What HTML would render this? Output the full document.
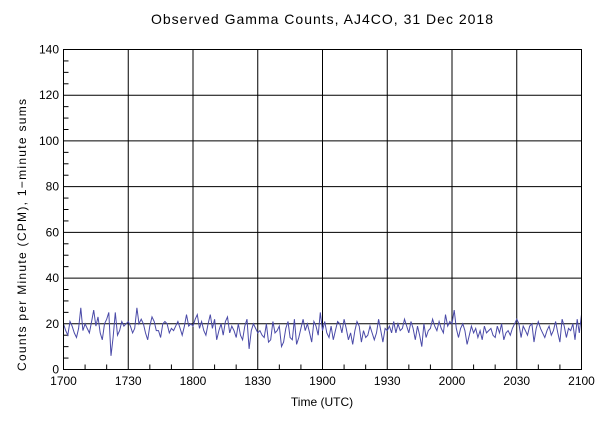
<!DOCTYPE html>
<html><head><meta charset="utf-8"><style>
body{margin:0;background:#fff;}
svg{display:block;font-family:"Liberation Sans",sans-serif;}
</style></head><body>
<svg id="chart" width="600" height="428" viewBox="0 0 600 428">
<text x="322" y="24" font-size="14" text-anchor="middle" textLength="342" lengthAdjust="spacing">Observed Gamma Counts, AJ4CO, 31 Dec 2018</text>
<text transform="translate(26,235) rotate(-90)" font-size="12" text-anchor="middle" textLength="272" lengthAdjust="spacing">Counts per Minute (CPM), 1−minute sums</text>
<text x="322" y="406" font-size="12" text-anchor="middle">Time (UTC)</text>
<g id="grid"></g><g id="ticks"></g>
<polyline id="series" fill="none" stroke="#4a4aa8" stroke-width="1"/>
<rect x="63.5" y="49.5" width="518" height="320" fill="none" stroke="#000" stroke-width="1"/>
</svg>
<script>
const yTicks=[0,20,40,60,80,100,120,140];
const xTickLabels=["1700","1730","1800","1830","1900","1930","2000","2030","2100"];
const cpm=[20,17,15,21,19,16,14,18,27,17,20,18,16,21,26,19,23,16,13,20,22,25,6,14,25,15,17,21,19,20,
21,19,16,18,27,20,22,20,16,13,19,23,21,17,17,14,20,21,20,16,18,17,19,21,18,15,19,24,19,20,
19,22,24,18,21,17,15,20,24,18,22,13,17,20,15,21,23,16,19,17,14,20,15,13,19,22,9,17,20,18,
16,17,15,14,20,12,13,21,16,17,19,10,12,18,21,14,13,22,11,14,18,22,17,20,16,12,21,19,15,25,
17,21,16,14,19,13,17,21,20,16,22,18,13,16,11,17,21,19,12,17,14,15,19,16,13,16,22,17,12,18,
17,19,16,21,16,20,17,18,22,19,16,21,18,13,19,15,10,20,14,17,18,22,19,17,21,18,16,24,19,21,
20,26,18,14,18,20,17,11,15,19,16,18,14,17,13,19,16,17,18,15,14,19,16,20,13,16,17,15,18,20,
22,20,14,19,17,15,19,20,12,18,21,18,16,14,17,19,15,17,21,16,12,22,19,14,18,17,20,13,22,16,24];
const L=63.5,R=581.5,T=49.5,B=369.5,NS="http://www.w3.org/2000/svg";
const xs=m=>L+(R-L)*m/240, ys=v=>B-(B-T)*v/140;
const g=document.getElementById('grid'),tk=document.getElementById('ticks');
function el(p,t,a){const e=document.createElementNS(NS,t);for(const k in a)e.setAttribute(k,a[k]);p.appendChild(e);return e;}
yTicks.forEach(v=>{const y=ys(v);
 const l=el(g,'line',{x1:L,x2:R,y1:y,y2:y,stroke:'#000','stroke-width':1});
 
 
 const t=el(tk,'text',{x:59,y:y+4,'font-size':12,'text-anchor':'end'});t.textContent=v;
 
 
});
for(let v=0;v<=140;v+=5){if(v%20)el(tk,'line',{x1:L,x2:L+5,y1:ys(v),y2:ys(v),stroke:'#000'});}
xTickLabels.forEach((s,i)=>{const x=xs(i*30);
 const l=el(g,'line',{x1:x,x2:x,y1:T,y2:B,stroke:'#000','stroke-width':1});
 
 
 const t=el(tk,'text',{x:x,y:385,'font-size':12,'text-anchor':'middle'});t.textContent=s;
 
 
});
for(let m=0;m<=240;m+=10){if(m%30)el(tk,'line',{x1:xs(m),x2:xs(m),y1:B,y2:B-5,stroke:'#000'});}
document.getElementById('series').setAttribute('points',cpm.map((v,i)=>xs(i*240/(cpm.length-1)).toFixed(1)+','+ys(v).toFixed(1)).join(' '));
</script>
</body></html>
